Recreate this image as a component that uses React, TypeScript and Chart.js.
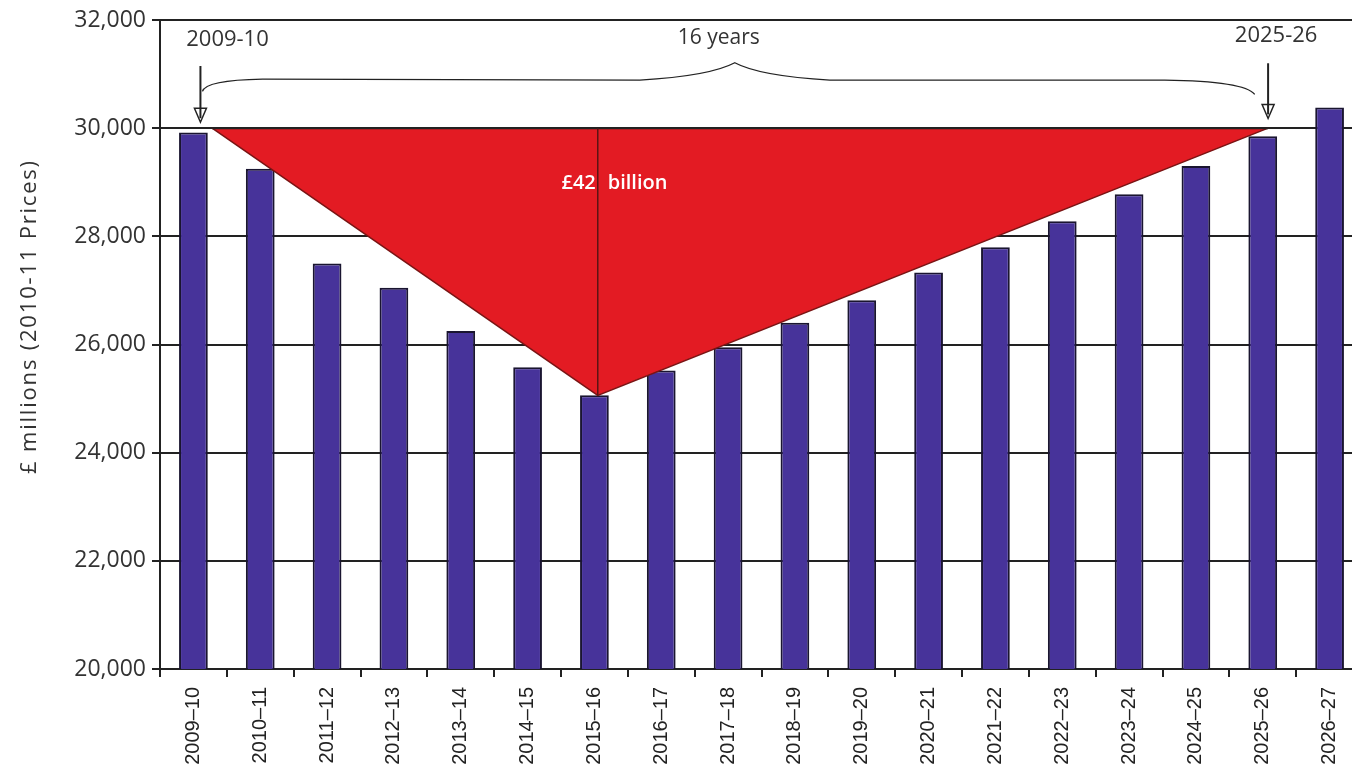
import React, { useEffect, useRef } from "react";
import { Chart, registerables } from "chart.js";

Chart.register(...registerables);

const categories = [
  "2009–10", "2010–11", "2011–12", "2012–13", "2013–14", "2014–15",
  "2015–16", "2016–17", "2017–18", "2018–19", "2019–20", "2020–21",
  "2021–22", "2022–23", "2023–24", "2024–25", "2025–26", "2026–27",
];

const spending = [
  29920, 29250, 27500, 27050, 26250, 25580, 25060, 25520, 25950, 26400,
  26820, 27330, 27800, 28280, 28780, 29300, 29850, 30380,
];

const yTicks = [20000, 22000, 24000, 26000, 28000, 30000, 32000];
const yTitle = "£ millions (2010-11 Prices)";

// triangle (category index, value)
const triangleX = [0.28, 6.05, 16.08];
const triangleY = [30000, 25060, 30000];
const gapLabel = ["£42", "billion"];
const startLabel = "2009-10";
const endLabel = "2025-26";
const spanLabel = "16 years";

const annotationPlugin = {
  id: "gapAnnotations",
  afterDatasetsDraw(chart: any) {
    const { ctx } = chart;
    const xs = chart.scales.x;
    const ys = chart.scales.y;
    const px = (v: number) => xs.getPixelForValue(v);
    const py = (v: number) => ys.getPixelForValue(v);
    ctx.save();

    // triangle
    ctx.beginPath();
    ctx.moveTo(px(triangleX[0]), py(triangleY[0]));
    ctx.lineTo(px(triangleX[1]), py(triangleY[1]));
    ctx.lineTo(px(triangleX[2]), py(triangleY[2]));
    ctx.closePath();
    ctx.fillStyle = "#e31b23";
    ctx.fill();
    ctx.lineWidth = 1.5;
    ctx.strokeStyle = "#7a1414";
    ctx.beginPath();
    ctx.moveTo(px(triangleX[0]), py(triangleY[0]));
    ctx.lineTo(px(triangleX[1]), py(triangleY[1]));
    ctx.lineTo(px(triangleX[2]), py(triangleY[2]));
    ctx.stroke();
    ctx.lineWidth = 2;
    ctx.strokeStyle = "#222";
    ctx.beginPath();
    ctx.moveTo(px(triangleX[0]), py(triangleY[0]));
    ctx.lineTo(px(triangleX[2]), py(triangleY[2]));
    ctx.stroke();

    // vertical line
    const vx = px(triangleX[1]);
    ctx.lineWidth = 1.5;
    ctx.strokeStyle = "#5a1515";
    ctx.beginPath();
    ctx.moveTo(vx, py(30000));
    ctx.lineTo(vx, py(triangleY[1]));
    ctx.stroke();

    // gap label
    ctx.fillStyle = "#ffffff";
    ctx.font = "600 20px 'Open Sans'";
    ctx.textBaseline = "middle";
    ctx.textAlign = "right";
    ctx.fillText(gapLabel[0], vx - 2, py(28980));
    ctx.textAlign = "left";
    ctx.fillText(gapLabel[1], vx + 10, py(28980));

    // arrows
    const arrow = (xv: number, y0: number, y1: number) => {
      const x = px(xv);
      const a = py(y0);
      const b = py(y1);
      ctx.strokeStyle = "#222";
      ctx.lineWidth = 2;
      ctx.beginPath();
      ctx.moveTo(x, a);
      ctx.lineTo(x, b - 4);
      ctx.stroke();
      ctx.beginPath();
      ctx.moveTo(x - 6, b - 14);
      ctx.lineTo(x, b);
      ctx.lineTo(x + 6, b - 14);
      ctx.closePath();
      ctx.lineWidth = 1.5;
      ctx.stroke();
    };
    arrow(0.105, 31150, 30110);
    arrow(16.08, 31200, 30180);

    // brace
    const l = px(0.135);
    const r = px(15.88);
    const m = px(8.1);
    const yEnd = py(30680);
    const yh = py(30890);
    const yp = py(31210);
    ctx.strokeStyle = "#222";
    ctx.lineWidth = 1.3;
    ctx.beginPath();
    ctx.moveTo(l, yEnd);
    ctx.quadraticCurveTo(l + 3, yh, l + 60, yh - 1);
    ctx.lineTo(m - 95, yh);
    ctx.quadraticCurveTo(m - 25, yh - 4, m, yp);
    ctx.quadraticCurveTo(m + 25, yh - 4, m + 95, yh);
    ctx.lineTo(r - 90, yh);
    ctx.quadraticCurveTo(r - 10, yh + 1, r, yEnd + 3);
    ctx.stroke();

    // labels
    ctx.fillStyle = "#333";
    ctx.textAlign = "center";
    ctx.textBaseline = "middle";
    ctx.font = "22px 'Open Sans'";
    ctx.fillText(startLabel, px(0.51), py(31630));
    ctx.fillText(endLabel, px(16.2), py(31700));
    ctx.font = "21px 'Open Sans'";
    ctx.fillText(spanLabel, px(7.86), py(31670));

    // y-axis title
    const cy = (py(32000) + py(20000)) / 2 - 28;
    ctx.translate(30, cy);
    ctx.rotate(-Math.PI / 2);
    ctx.font = "22px 'Open Sans'";
    (ctx as any).letterSpacing = "1.8px";
    ctx.fillStyle = "#333";
    ctx.fillText(yTitle, 0, 0);

    ctx.restore();
    (ctx as any).letterSpacing = "0px";
  },
};

export default function App() {
  const ref = useRef<HTMLCanvasElement>(null);
  useEffect(() => {
    if (!ref.current) return;
    const chart = new Chart(ref.current, {
      type: "bar",
      data: {
        labels: categories,
        datasets: [
          {
            data: spending,
            backgroundColor: "#47339a",
            borderColor: "#1a1530",
            borderWidth: 2,
            barPercentage: 0.43,
            categoryPercentage: 1,
          },
        ],
      },
      options: {
        responsive: false,
        animation: false,
        layout: { padding: { top: 20, right: 5, left: 0, bottom: 0 } },
        plugins: { legend: { display: false }, tooltip: { enabled: false } },
        scales: {
          x: {
            grid: {
              offset: true,
              drawOnChartArea: false,
              drawTicks: true,
              tickLength: 8,
              color: "#222",
              lineWidth: 2,
            },
            border: { color: "#222", width: 2 },
            ticks: {
              minRotation: 90,
              maxRotation: 90,
              padding: 10,
              color: "#222",
              font: { family: "'Liberation Sans', Arial, sans-serif", size: 20 },
            },
            afterFit(scale: any) {
              scale.height = 113;
            },
          },
          y: {
            min: 20000,
            max: 32000,
            afterBuildTicks(scale: any) {
              scale.ticks = yTicks.map((v) => ({ value: v }));
            },
            grid: {
              color: "#222",
              lineWidth: 2,
              tickLength: 8,
            },
            border: { color: "#222", width: 2 },
            ticks: {
              padding: 6,
              color: "#333",
              font: { family: "'Open Sans'", size: 23 },
              callback: (v: any) => Number(v).toLocaleString("en-GB"),
            },
            afterFit(scale: any) {
              scale.width = 160;
            },
          },
        },
      },
      plugins: [annotationPlugin],
    });
    return () => chart.destroy();
  }, []);
  return (
    <div
      style={{
        position: "fixed",
        left: 0,
        top: 0,
        width: 1352,
        height: 782,
        overflow: "hidden",
        background: "#fff",
      }}
    >
      <canvas ref={ref} width={1368} height={782} style={{ display: "block" }} />
    </div>
  );
}
